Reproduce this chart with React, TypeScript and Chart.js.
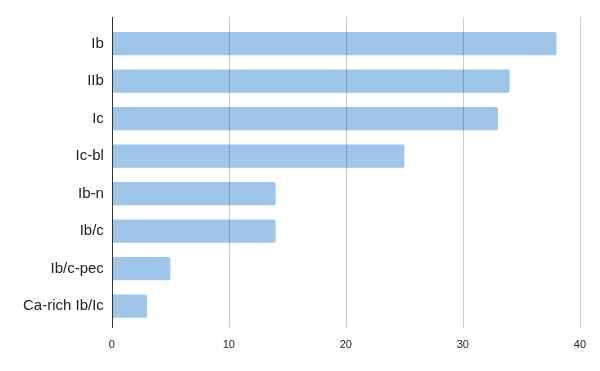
import React, { useEffect, useRef } from "react";
import { Chart, registerables } from "chart.js";

Chart.register(...registerables);

const categories = ["Ib", "IIb", "Ic", "Ic-bl", "Ib-n", "Ib/c", "Ib/c-pec", "Ca-rich Ib/Ic"];
const counts = [38, 34, 33, 25, 14, 14, 5, 3];
const xTicks = [0, 10, 20, 30, 40];

const FONT = "'Liberation Sans', Arial, sans-serif";

const gridPlugin = {
  id: "gridOnTop",
  afterDatasetsDraw(chart: any) {
    const { ctx, chartArea, scales } = chart;
    const xs = scales.x;
    const top = chartArea.top - 8;
    const bottom = chartArea.bottom + 3;
    ctx.save();
    xs.ticks.forEach((t: any, i: number) => {
      const px = Math.round(xs.getPixelForTick(i)) + 0.5;
      ctx.beginPath();
      ctx.strokeStyle = t.value === 0 ? "#333333" : "rgba(0,0,0,0.2)";
      ctx.lineWidth = 1;
      ctx.moveTo(px, top);
      ctx.lineTo(px, bottom);
      ctx.stroke();
    });
    ctx.restore();
  },
};

export default function App() {
  const ref = useRef<HTMLCanvasElement | null>(null);
  useEffect(() => {
    if (!ref.current) return;
    const chart = new Chart(ref.current, {
      type: "bar",
      data: {
        labels: categories,
        datasets: [
          {
            data: counts,
            backgroundColor: "#9fc5e8",
            borderWidth: 0,
            borderRadius: 2,
            borderSkipped: "start",
            barPercentage: 0.62,
            categoryPercentage: 1,
          },
        ],
      },
      options: {
        indexAxis: "y",
        animation: false,
        responsive: false,
        maintainAspectRatio: false,
        layout: { padding: { left: 15, right: 20, top: 25, bottom: 5 } },
        plugins: { legend: { display: false }, tooltip: { enabled: false } },
        scales: {
          x: {
            type: "linear",
            min: 0,
            max: 40,
            afterBuildTicks: (s: any) => {
              s.ticks = xTicks.map((v) => ({ value: v }));
            },
            grid: { display: false, drawTicks: false },
            border: { display: false },
            ticks: {
              padding: 14,
              color: "#222222",
              font: { family: FONT, size: 11 },
              maxRotation: 0,
            },
          },
          y: {
            grid: { display: false, drawTicks: false },
            border: { display: false },
            ticks: {
              padding: 8,
              color: "#222222",
              font: { family: FONT, size: 15 },
            },
          },
        },
      },
      plugins: [gridPlugin],
    });
    return () => chart.destroy();
  }, []);
  return (
    <div style={{ position: "absolute", left: 0, top: 0, width: 600, height: 371, background: "#fff" }}>
      <canvas ref={ref} width={600} height={371} style={{ width: 600, height: 371 }} />
    </div>
  );
}
